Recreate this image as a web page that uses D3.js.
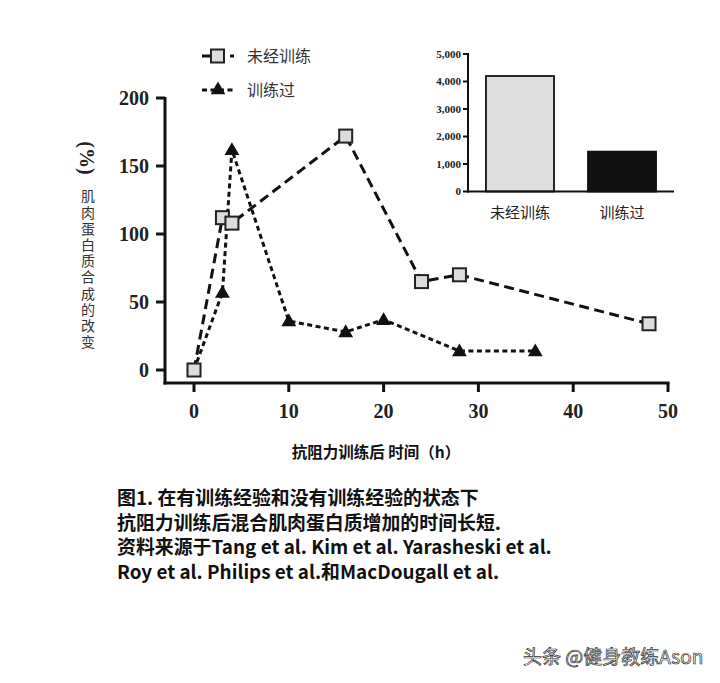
<!DOCTYPE html>
<html>
<head>
<meta charset="utf-8">
<script src="https://cdn.jsdelivr.net/npm/d3@7"></script>
<style>
html,body{margin:0;padding:0;background:#fff;}
svg{display:block;}
</style>
</head>
<body>
<svg id="chart" width="720" height="683"></svg>
<script>
// ---- data ----
const untrainedHours = [0, 3, 4, 16, 24, 28, 48];
const untrainedValues = [0, 112, 108, 172, 65, 70, 34];
const trainedHours = [0, 3, 4, 10, 16, 20, 28, 36];
const trainedValues = [0, 57, 162, 36, 28, 37, 14, 14];
const xTicks = [0, 10, 20, 30, 40, 50];
const yTicks = [0, 50, 100, 150, 200];
const seriesNames = ["未经训练", "训练过"];
const insetCategories = ["未经训练", "训练过"];
const insetValues = [4200, 1450];
const insetTicks = [0, 1000, 2000, 3000, 4000, 5000];
const yLabelText = "肌肉蛋白质合成的改变";
const xTitle = "抗阻力训练后 时间（h）";
const captionLines = [
  "图1. 在有训练经验和没有训练经验的状态下",
  "抗阻力训练后混合肌肉蛋白质增加的时间长短.",
  "资料来源于Tang et al. Kim et al. Yarasheski et al.",
  "Roy et al. Philips et al.和MacDougall et al."
];
const watermark = "头条 @健身教练Ason";

const svg = d3.select("#chart");
const serif = "'Liberation Serif','Times New Roman',serif";
const sans = "'Noto Sans CJK SC','Noto Sans',sans-serif";

// ---- main scales ----
const x = d3.scaleLinear().domain([0, 50]).range([194, 668]);
const y = d3.scaleLinear().domain([0, 200]).range([370, 98]);

// axes
const axisX = 165, axisY = 383;
svg.append("line").attr("x1", axisX).attr("x2", axisX).attr("y1", y(200) - 1).attr("y2", axisY + 1.5)
  .attr("stroke", "#111").attr("stroke-width", 3);
svg.append("line").attr("x1", axisX - 1.5).attr("x2", x(50) + 1.5).attr("y1", axisY).attr("y2", axisY)
  .attr("stroke", "#111").attr("stroke-width", 3);

const yAx = svg.append("g");
yTicks.forEach(t => {
  yAx.append("line").attr("x1", axisX - 9).attr("x2", axisX).attr("y1", y(t)).attr("y2", y(t))
    .attr("stroke", "#111").attr("stroke-width", 3);
  yAx.append("text").attr("x", axisX - 16).attr("y", y(t)).attr("dy", "0.35em")
    .attr("text-anchor", "end").attr("font-family", serif).attr("font-weight", "bold")
    .attr("font-size", 20).attr("fill", "#222").text(t);
});
const xAx = svg.append("g");
xTicks.forEach(t => {
  xAx.append("line").attr("x1", x(t)).attr("x2", x(t)).attr("y1", axisY).attr("y2", axisY + 9)
    .attr("stroke", "#111").attr("stroke-width", 3);
  xAx.append("text").attr("x", x(t)).attr("y", axisY + 35)
    .attr("text-anchor", "middle").attr("font-family", serif).attr("font-weight", "bold")
    .attr("font-size", 20).attr("fill", "#222").text(t);
});

// axis titles
svg.append("text").attr("transform", "translate(80,158) rotate(90)")
  .attr("text-anchor", "middle").attr("font-family", serif).attr("font-weight", "bold")
  .attr("font-size", 20).attr("fill", "#222").text("(%)");
svg.append("text").attr("x", 88).attr("y", 189)
  .attr("style", "writing-mode: vertical-rl; text-orientation: upright; letter-spacing: 2.2px;")
  .attr("font-family", sans).attr("font-size", 14).attr("fill", "#333").text(yLabelText);
svg.append("text").attr("x", 376).attr("y", 458).attr("text-anchor", "middle")
  .attr("font-family", sans).attr("font-weight", "bold").attr("font-size", 15.5)
  .attr("fill", "#111").text(xTitle);

// lines
const untrained = untrainedHours.map((h, i) => [h, untrainedValues[i]]);
const trained = trainedHours.map((h, i) => [h, trainedValues[i]]);
const line = d3.line().x(d => x(d[0])).y(d => y(d[1]));

svg.append("path").attr("d", line(trained)).attr("fill", "none")
  .attr("stroke", "#111").attr("stroke-width", 3).attr("stroke-dasharray", "5,3.5");
svg.append("path").attr("d", line(untrained)).attr("fill", "none")
  .attr("stroke", "#111").attr("stroke-width", 3).attr("stroke-dasharray", "10,5.5");

const tri = d3.symbol().type(d3.symbolTriangle).size(95);
svg.selectAll(".tri").data(trained).enter().append("path")
  .attr("transform", d => `translate(${x(d[0])},${y(d[1]) + 1})`)
  .attr("d", tri).attr("fill", "#111");
svg.selectAll(".sq").data(untrained).enter().append("rect")
  .attr("x", d => x(d[0]) - 6.5).attr("y", d => y(d[1]) - 6.5)
  .attr("width", 13).attr("height", 13)
  .attr("fill", "#dcdcdc").attr("stroke", "#222").attr("stroke-width", 2);

// legend
const lg = svg.append("g");
lg.append("line").attr("x1", 202).attr("x2", 234).attr("y1", 56).attr("y2", 56)
  .attr("stroke", "#111").attr("stroke-width", 3).attr("stroke-dasharray", "9,5");
lg.append("rect").attr("x", 211).attr("y", 49.5).attr("width", 13).attr("height", 13)
  .attr("fill", "#dcdcdc").attr("stroke", "#222").attr("stroke-width", 2);
lg.append("text").attr("x", 247).attr("y", 56).attr("dy", "0.35em")
  .attr("font-family", sans).attr("font-size", 16).attr("fill", "#333").text(seriesNames[0]);
lg.append("line").attr("x1", 202).attr("x2", 234).attr("y1", 90).attr("y2", 90)
  .attr("stroke", "#111").attr("stroke-width", 3).attr("stroke-dasharray", "5,3.5");
lg.append("path").attr("transform", "translate(218,90)").attr("d", tri).attr("fill", "#111");
lg.append("text").attr("x", 247).attr("y", 90).attr("dy", "0.35em")
  .attr("font-family", sans).attr("font-size", 16).attr("fill", "#333").text(seriesNames[1]);

// ---- inset bar chart ----
const iy = d3.scaleLinear().domain([0, 5000]).range([191.5, 54]);
const ix = d3.scaleBand().domain(insetCategories).range([468, 674]).paddingInner(0.333).paddingOuter(0.176);
const ins = svg.append("g");
ins.selectAll(".bar").data(insetValues).enter().append("rect")
  .attr("x", (d, i) => ix(insetCategories[i]))
  .attr("y", d => iy(d))
  .attr("width", ix.bandwidth())
  .attr("height", d => iy(0) - iy(d))
  .attr("fill", (d, i) => i === 0 ? "#dedede" : "#111")
  .attr("stroke", "#111").attr("stroke-width", 1.8);
ins.append("line").attr("x1", 468).attr("x2", 468).attr("y1", iy(5000) - 1).attr("y2", iy(0) + 1)
  .attr("stroke", "#111").attr("stroke-width", 2);
ins.append("line").attr("x1", 467).attr("x2", 674).attr("y1", iy(0)).attr("y2", iy(0))
  .attr("stroke", "#111").attr("stroke-width", 2);
const fmt = d3.format(",");
insetTicks.forEach(t => {
  ins.append("line").attr("x1", 463).attr("x2", 468).attr("y1", iy(t)).attr("y2", iy(t))
    .attr("stroke", "#111").attr("stroke-width", 2);
  ins.append("text").attr("x", 461).attr("y", iy(t)).attr("dy", "0.35em")
    .attr("text-anchor", "end").attr("font-family", serif).attr("font-weight", "bold")
    .attr("font-size", 11).attr("fill", "#222").text(fmt(t));
});
insetCategories.forEach(c => {
  ins.append("text").attr("x", ix(c) + ix.bandwidth() / 2).attr("y", 213).attr("dy", "0.35em")
    .attr("text-anchor", "middle").attr("font-family", sans).attr("font-size", 15)
    .attr("fill", "#222").text(c);
});

// ---- caption ----
captionLines.forEach((l, i) => {
  svg.append("text").attr("x", 117).attr("y", 505 + i * 24.5)
    .attr("font-family", sans).attr("font-weight", "bold").attr("font-size", 18.9)
    .attr("fill", "#111").text(l);
});

// watermark
svg.append("text").attr("x", 523).attr("y", 664)
  .attr("font-family", sans).attr("font-size", 19).attr("fill", "#f2f2f2")
  .attr("stroke", "#333").attr("stroke-width", 0.7).text(watermark);
</script>
</body>
</html>
